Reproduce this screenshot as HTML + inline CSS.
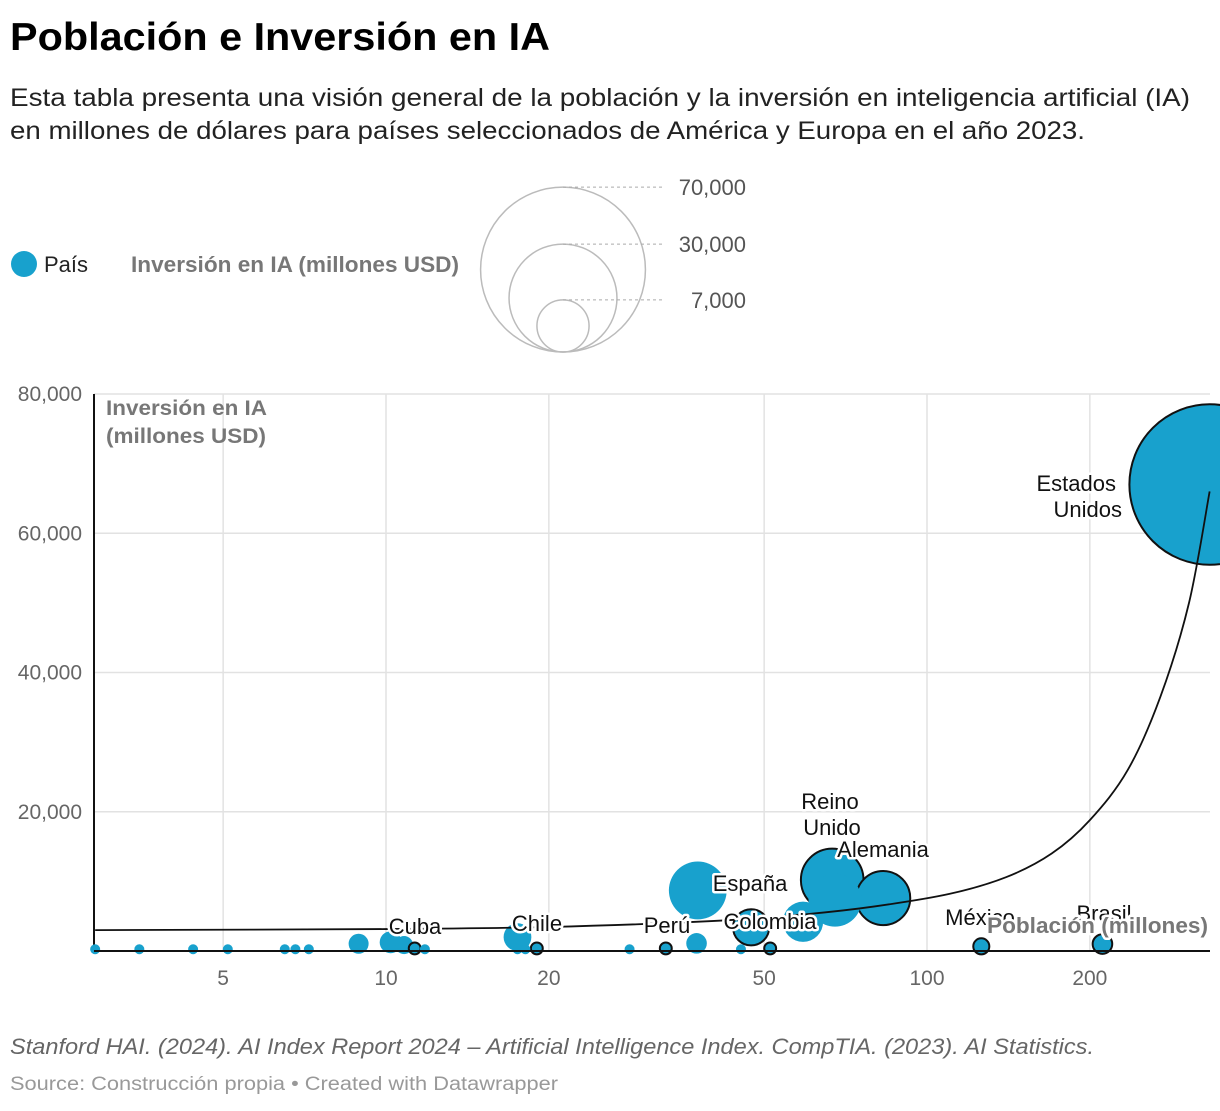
<!DOCTYPE html>
<html><head><meta charset="utf-8"><style>
body{margin:0;background:#fff;font-family:"Liberation Sans",sans-serif;}
svg text{font-family:"Liberation Sans",sans-serif;}
.lbl{font-size:22px;fill:#111;paint-order:stroke;stroke:#fff;stroke-width:5px;stroke-linejoin:round;}
</style></head><body>
<svg id="chart" width="1220" height="1106" viewBox="0 0 1220 1106">
<text x="10" y="50" font-size="39" font-weight="bold" fill="#000" textLength="540" lengthAdjust="spacingAndGlyphs">Población e Inversión en IA</text>
<text x="10" y="106" font-size="25" fill="#222" textLength="1180" lengthAdjust="spacingAndGlyphs">Esta tabla presenta una visión general de la población y la inversión en inteligencia artificial (IA)</text>
<text x="10" y="139" font-size="25" fill="#222" textLength="1075" lengthAdjust="spacingAndGlyphs">en millones de dólares para países seleccionados de América y Europa en el año 2023.</text>
<circle cx="24" cy="264" r="13" fill="#18a1cd"/>
<text x="44" y="272" font-size="22" fill="#222">País</text>
<text x="131" y="272" font-size="22" font-weight="bold" fill="#777" textLength="328" lengthAdjust="spacingAndGlyphs">Inversión en IA (millones USD)</text>
<g id="sizeLegend"></g>
<g id="grid"></g>
<g id="bubbles"></g>
<g id="trend"></g>
<g id="labels"></g>
<text x="106" y="415" font-size="21" font-weight="bold" fill="#777" textLength="161" lengthAdjust="spacingAndGlyphs">Inversión en IA</text>
<text x="106" y="443" font-size="21" font-weight="bold" fill="#777" textLength="160" lengthAdjust="spacingAndGlyphs">(millones USD)</text>
<text x="987" y="933" font-size="22" font-weight="bold" class="lbl" style="fill:#777" textLength="221" lengthAdjust="spacingAndGlyphs">Población (millones)</text>
<text x="10" y="1054" font-size="22" font-style="italic" fill="#666" textLength="1084" lengthAdjust="spacingAndGlyphs">Stanford HAI. (2024). AI Index Report 2024 – Artificial Intelligence Index. CompTIA. (2023). AI Statistics.</text>
<text x="10" y="1090" font-size="19" fill="#999" textLength="548" lengthAdjust="spacingAndGlyphs">Source: Construcción propia • Created with Datawrapper</text>
</svg>
<script>
const countries=["c1","c2","c3","c4","c5","c6","c7","c8","c9","c10","Cuba","c12","c13","c14","c15","Chile","c17","Perú","España","c20","c21","Colombia","Colombia2","c24","Reino Unido","c26","Alemania","México","Brasil","Estados Unidos"];
const population=[2.9,3.5,4.4,5.1,6.5,6.8,7.2,8.9,10.2,10.8,11.3,11.8,17.5,17.5,18.1,19.0,28.2,32.9,37.7,37.5,45.3,51.3,47.3,59.0,66.8,67.6,83.0,126,211,333];
const investment=[250,250,250,250,250,250,250,1040,1250,850,370,250,2000,250,250,370,250,370,8700,1100,250,370,3400,4200,10200,7300,7600,670,1000,67000];
const outlined=[0,0,0,0,0,0,0,0,0,0,1,0,0,0,0,1,0,1,0,0,0,1,1,0,1,0,1,1,1,1];
const xTicks=[5,10,20,50,100,200];
const yTicks=[20000,40000,60000,80000];
const legendValues=[70000,30000,7000];
const trendPop=[2.9,10,20,40,60,80,110,140,170,200,235,270,305,333];
const trendInv=[3000,3150,3450,4300,5300,6400,8200,10600,14000,18800,26000,36500,50000,66000];
const labelPts=[["Cuba",415,934],["Chile",537,931],["Perú",667,933],["Colombia",770,929],["España",750,891],["Reino",830,809],["Unido",832,835],["Alemania",883,857],["México",980,925],["Brasil",1104,921]];
const NS="http://www.w3.org/2000/svg";
const X=v=>386+541*Math.log10(v/10);
const Y=v=>951-v/80000*557;
const R=v=>0.31*Math.sqrt(v);
function mk(t,a,p){const e=document.createElementNS(NS,t);for(const k in a)e.setAttribute(k,a[k]);p.appendChild(e);return e;}
const g=document.getElementById('grid');
yTicks.forEach(t=>{const l=mk('line',{x1:94,x2:1210,y1:Y(t),y2:Y(t),stroke:'#e2e2e2','stroke-width':1.5},g);


const tx=mk('text',{x:82,y:Y(t)+7,'font-size':21,fill:'#666','text-anchor':'end'},g);tx.textContent=t.toLocaleString('en-US');

});
xTicks.forEach(t=>{const l=mk('line',{x1:X(t),x2:X(t),y1:394,y2:951,stroke:'#e2e2e2','stroke-width':1.5},g);


const tx=mk('text',{x:X(t),y:985,'font-size':21,fill:'#666','text-anchor':'middle'},g);tx.textContent=t;

});
const ya=mk('line',{x1:94,x2:94,y1:394,y2:951,stroke:'#111','stroke-width':2},g);


const sl=document.getElementById('sizeLegend');
legendValues.forEach(v=>{const r=R(v)*1.005;const c=mk('circle',{cx:563,cy:352-r,r:r,fill:'none',stroke:'#bbb','stroke-width':1.5},sl);


const ln=mk('line',{x1:563,x2:663,y1:352-2*r,y2:352-2*r,stroke:'#aaa','stroke-dasharray':'3,3'},sl);


const tx=mk('text',{x:746,y:352-2*r+8,'font-size':22,fill:'#555','text-anchor':'end'},sl);tx.textContent=v.toLocaleString('en-US');

});
const bg=document.getElementById('bubbles');
const order=population.map((p,i)=>i).sort((a,b)=>investment[b]-investment[a]);
order.forEach(i=>{const c=mk('circle',{cx:X(population[i]),cy:Y(investment[i]),r:Math.max(5,R(investment[i])),fill:'#18a1cd',stroke:outlined[i]?'#111':'none','stroke-width':2},bg);

});
const bl=mk('line',{x1:94,x2:1210,y1:951,y2:951,stroke:'#111','stroke-width':2},bg);


const tg=document.getElementById('trend');
const pts=trendPop.map((p,i)=>[X(p),Y(trendInv[i])]);
let d='M'+pts[0][0]+','+pts[0][1];
for(let i=0;i<pts.length-1;i++){const p0=pts[Math.max(0,i-1)],p1=pts[i],p2=pts[i+1],p3=pts[Math.min(pts.length-1,i+2)];
d+=`C${p1[0]+(p2[0]-p0[0])/6},${p1[1]+(p2[1]-p0[1])/6} ${p2[0]-(p3[0]-p1[0])/6},${p2[1]-(p3[1]-p1[1])/6} ${p2[0]},${p2[1]}`;}
const tp=mk('path',{d:d,fill:'none',stroke:'#111','stroke-width':1.8},tg);


const lg=document.getElementById('labels');
labelPts.forEach(([t,x,y])=>{const tx=mk('text',{x:x,y:y,'text-anchor':'middle',class:'lbl'},lg);tx.textContent=t;

});
[["Estados",1116,491],["Unidos",1122,517]].forEach(([t,x,y])=>{const tx=mk('text',{x:x,y:y,'text-anchor':'end',class:'lbl'},lg);tx.textContent=t;

});
</script>
</body></html>
